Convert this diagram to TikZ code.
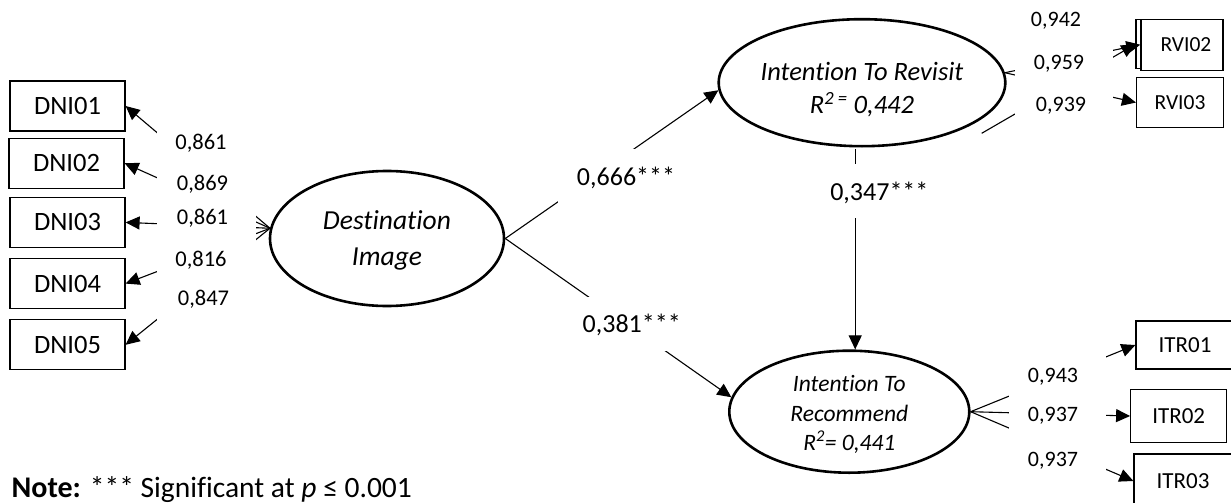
\documentclass[tikz,border=0pt]{standalone}
\usepackage{fontspec}
\setmainfont{Carlito}[Ligatures=NoCommon]
\usetikzlibrary{positioning,shapes.geometric,arrows.meta}

\newcommand{\sz}[2]{\fontsize{#1}{#2}\selectfont}
\newcommand{\lines}[2]{\raisebox{#1}[0pt][0pt]{\begin{tabular}[t]{@{}c@{}}#2\end{tabular}}}

\tikzset{
  latent/.style={ellipse, draw, line width=2.6pt, inner sep=0pt},
  obs/.style={rectangle, draw, line width=1.2pt, fill=white, inner sep=0pt,
    minimum width=115, minimum height=50, font=\sz{26.5}{31}},
  link/.style={line width=1.1pt, -{Triangle[length=14pt,width=13pt]}},
  load/.style={inner sep=0pt, font=\sz{22.5}{27}},
  coef/.style={inner sep=0pt, font=\sz{26}{31}},
  mask/.style={fill=white}
}

\begin{document}
\begin{tikzpicture}[x=1pt, y=-1pt]

  \useasboundingbox (0,0) rectangle (1231,503);

  \node (DI) [latent, minimum width=234, minimum height=135, font={\itshape\sz{27.5}{35.7}}] at (387,238.5) {\lines{8.7pt}{Destination\\Image}};
  \node (ITRv) [latent, minimum width=239, minimum height=127, font={\itshape\sz{26.5}{33.3}}] at (862,82.7) {\lines{2.5pt}{Intention To Revisit\\R\textsuperscript{2 =} 0,442}};
  \node (ITRc) [latent, minimum width=240, minimum height=122, font={\itshape\sz{23.5}{29.2}}] at (849.3,411.7) {\lines{19.9pt}{Intention To\\Recommend\\R\textsuperscript{2}= 0,441}};

  \node (DNI01) [obs] at (67.5,106) {DNI01};
  \node (DNI02) [obs, below=6pt of DNI01, xshift=-1pt] {DNI02};
  \node (DNI03) [obs, below=8pt of DNI02, xshift=1pt] {DNI03};
  \node (DNI04) [obs, below=10pt of DNI03] {DNI04};
  \node (DNI05) [obs, below=10pt of DNI04] {DNI05};

  \node (RVI01) [obs, minimum width=84, minimum height=49] at (1178,44.2) {};
  \node (RVI02) [obs, minimum width=82, minimum height=51, font=\sz{21.5}{25}] at (1181.9,44.7) {\hspace{8pt}RVI02};
  \node (RVI03) [obs, minimum width=87, minimum height=50, font=\sz{21.5}{25}] at (1180,102.5) {RVI03};

  \node (ITR01) [obs, minimum width=98, minimum height=48, font=\sz{23}{27}] at (1185,345) {ITR01};
  \node (ITR02) [obs, minimum width=96, minimum height=53, font=\sz{23}{27}] at (1178.7,416) {ITR02};
  \node (ITR03) [obs, minimum width=98, minimum height=54, font=\sz{23}{27}] at (1183,481) {ITR03};

  \coordinate (RVs) at (981.7,133.3);

  \draw[link] (DI.175) -- (DNI01.east);
  \draw[link] (DI.175) -- (DNI02.east);
  \draw[link] (DI.175) -- (DNI03.east);
  \draw[link] (DI.175) -- (DNI04.east);
  \draw[link] (DI.175) -- (DNI05.east);

  \draw[link] (DI.east) -- (ITRv.183);
  \draw[link] (DI.east) -- (ITRc.173);
  \draw[link, shorten <=2pt] (ITRv.264) -- (ITRv.264 |- ITRc.north);

  \draw[link] (RVs) -- (RVI01.west);
  \draw[link] (ITRv.4) -- (RVI02.west);
  \draw[link] (ITRv.4) -- (RVI03.west);

  \draw[link] (ITRc.east) -- (ITR01.west);
  \draw[link] (ITRc.east) -- (ITR02.west);
  \draw[link] (ITRc.east) -- (ITR03.west);

  \fill[mask] (157,118) rectangle (256,322);
  \fill[mask] (558,149) rectangle (694,207);
  \fill[mask] (576,297) rectangle (688,351);
  \fill[mask] (830,164) rectangle (929,218.3);
  \fill[mask] (1015,5) rectangle (1113,118);
  \fill[mask] (1008.5,352) rectangle (1106,490);

  \node (l1) [load] at (201,143) {0,861};
  \node (l2) [load] at (202.5,184) {0,869};
  \node (l3) [load] at (202.5,218) {0,861};
  \node (l4) [load] at (201,260) {0,816};
  \node (l5) [load] at (203.5,299) {0,847};

  \node (b1) [coef] at (626,178) {0,666***};
  \node (b2) [coef] at (631.7,325) {0,381***};
  \node (b3) [coef] at (879.3,193.3) {0,347***};

  \node (r1) [load, font=\sz{22}{26}] at (1056,20.7) {0,942};
  \node (r2) [load, font=\sz{22}{26}] at (1059,63.3) {0,959};
  \node (r3) [load, font=\sz{22}{26}] at (1061,106) {0,939};

  \node (t1) [load, font=\sz{22}{26}] at (1053,376.7) {0,943};
  \node (t2) [load, font=\sz{22}{26}] at (1053,415.7) {0,937};
  \node (t3) [load, font=\sz{22}{26}] at (1053,460.7) {0,937};

  \node (note) [anchor=base west, inner sep=0pt, font=\sz{29.5}{34}] at (11.5,497) {{\sz{30}{34}\bfseries Note:} *** Significant at \textit{p} ≤ 0.001};

\end{tikzpicture}
\end{document}
